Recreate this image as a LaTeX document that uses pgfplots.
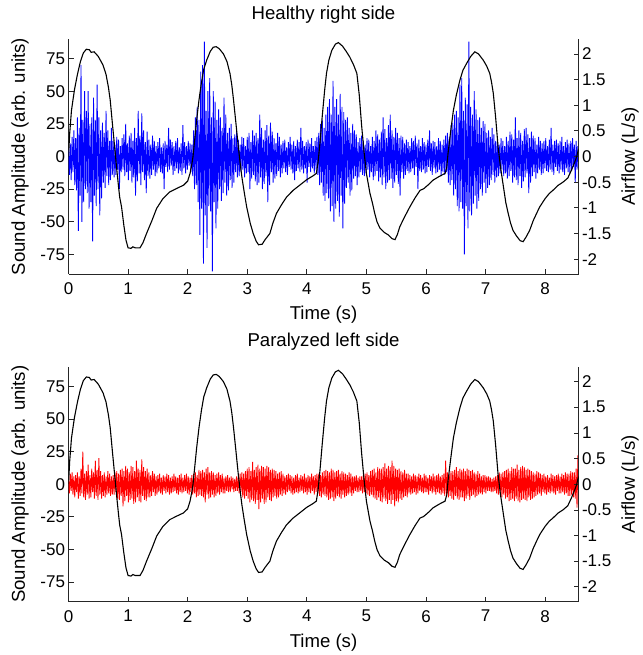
\documentclass[border=0pt]{standalone}
\usepackage{fontspec}
\setmainfont{Liberation Sans}
\usepackage{pgfplots}
\usepackage{pgfplotstable}
\pgfplotsset{compat=1.18}

\pgfplotstableread{
t f
0 0
0.02 0.45
0.05 0.9
0.1 1.3
0.15 1.6
0.2 1.85
0.25 2.02
0.3 2.09
0.35 2.08
0.38 2.03
0.43 2.04
0.5 1.95
0.58 1.78
0.63 1.6
0.67 1.35
0.70 1.1
0.74 0.6
0.78 0.12
0.81 -0.25
0.84 -0.59
0.86 -0.8
0.89 -0.98
0.93 -1.35
0.965 -1.63
1.0 -1.78
1.05 -1.79
1.08 -1.76
1.12 -1.78
1.2 -1.78
1.25 -1.68
1.31 -1.5
1.4 -1.25
1.48 -1.01
1.58 -0.83
1.7 -0.69
1.82 -0.62
1.93 -0.56
2.0 -0.48
2.04 -0.33
2.07 -0.15
2.09 0.0
2.12 0.35
2.15 0.7
2.19 1.1
2.23 1.43
2.27 1.7
2.32 1.88
2.38 2.05
2.43 2.13
2.48 2.14
2.53 2.1
2.6 2.0
2.66 1.85
2.71 1.62
2.74 1.4
2.77 1.1
2.81 0.65
2.85 0.19
2.88 -0.12
2.91 -0.4
2.95 -0.7
2.99 -0.98
3.05 -1.3
3.1 -1.5
3.15 -1.65
3.19 -1.72
3.25 -1.71
3.3 -1.62
3.38 -1.5
3.43 -1.3
3.49 -1.11
3.57 -0.95
3.66 -0.79
3.77 -0.66
3.88 -0.56
4.0 -0.45
4.1 -0.38
4.16 -0.33
4.19 -0.1
4.22 0.26
4.26 0.8
4.30 1.3
4.33 1.62
4.37 1.88
4.42 2.07
4.48 2.19
4.53 2.22
4.6 2.15
4.66 2.05
4.72 1.94
4.78 1.8
4.84 1.62
4.88 1.2
4.92 0.6
4.96 0.1
5.0 -0.33
5.06 -0.72
5.1 -0.9
5.14 -1.11
5.18 -1.28
5.23 -1.40
5.3 -1.48
5.37 -1.53
5.43 -1.6
5.48 -1.62
5.52 -1.52
5.56 -1.37
5.64 -1.18
5.73 -0.98
5.82 -0.8
5.9 -0.66
5.96 -0.63
6.04 -0.55
6.12 -0.46
6.22 -0.39
6.32 -0.33
6.35 -0.2
6.37 0.06
6.41 0.45
6.46 0.9
6.51 1.2
6.57 1.49
6.62 1.68
6.68 1.81
6.75 1.95
6.82 2.04
6.88 2.0
6.96 1.88
7.02 1.76
7.07 1.62
7.1 1.45
7.13 1.23
7.17 0.75
7.21 0.19
7.25 -0.2
7.30 -0.59
7.34 -0.9
7.38 -1.11
7.42 -1.3
7.46 -1.44
7.52 -1.55
7.58 -1.64
7.63 -1.66
7.68 -1.57
7.74 -1.44
7.8 -1.25
7.86 -1.1
7.91 -0.98
8.0 -0.82
8.07 -0.72
8.13 -0.66
8.22 -0.56
8.3 -0.50
8.38 -0.42
8.44 -0.27
8.5 -0.1
8.53 0.0
8.56 0.15
}\airflow

\pgfplotsset{
  common/.style={
    width=510pt, height=235pt, scale only axis,
    xmin=0, xmax=8.56,
    tick align=inside, major tick length=5pt,
    axis line style={-, black!85, line width=0.7pt},
    tick style={black!85, line width=0.7pt},
    /pgf/number format/assume math mode=true,
    tick label style={font=\fontsize{17}{20}\selectfont},
    label style={font=\fontsize{18.6}{22}\selectfont},
    title style={font=\fontsize{18.6}{22}\selectfont, at={(axis description cs:0.5,1.08)}, anchor=center},
  },
  leftax/.style={
    common,
    axis x line*=bottom, axis y line*=left,
    ymin=-90, ymax=90,
    ytick={-75,-50,-25,0,25,50,75},
    xtick={0,1,2,3,4,5,6,7,8},
    xticklabel style={yshift=-5pt},
    xlabel={Time (s)},
    ylabel={Sound Amplitude (arb. units)},
    xlabel style={at={(axis description cs:0.5,-0.174)}, anchor=center},
    ylabel style={at={(axis description cs:-0.095,0.5)}, anchor=center},
  },
  rightax/.style={
    common,
    axis x line=none, axis y line*=right,
    ymin=-2.29, ymax=2.29,
    ytick={-2,-1.5,-1,-0.5,0,0.5,1,1.5,2},
    ylabel={Airflow (L/s)},
    ylabel style={at={(axis description cs:1.101,0.5)}, anchor=center},
  },
}

\begin{document}
\begin{tikzpicture}
\path (-68.5pt,-381pt) rectangle (569.5pt,274pt);

% ---------- Top: healthy right side ----------
\begin{axis}[leftax, at={(0,0)}, title={Healthy right side}]
\addplot[color={rgb,255:red,0;green,0;blue,255}, line width=0.85pt] coordinates {
(0.000,5) (0.015,-14) (0.030,10) (0.045,-18) (0.060,15) (0.075,-12) (0.090,20) (0.105,-22) (0.120,14) (0.135,-26)
(0.150,30) (0.165,-57) (0.180,22) (0.195,-30) (0.210,70) (0.225,-50) (0.240,28) (0.255,-35) (0.270,50) (0.285,-25)
(0.300,35) (0.315,-28) (0.330,50) (0.345,-40) (0.360,25) (0.375,-35) (0.390,30) (0.405,-65) (0.420,45) (0.435,-30)
(0.450,28) (0.465,-38) (0.480,55) (0.495,-25) (0.510,30) (0.525,-45) (0.540,20) (0.555,-32) (0.570,26) (0.585,-20)
(0.600,18) (0.615,-24) (0.630,35) (0.645,-15) (0.660,20) (0.675,-22) (0.690,12) (0.705,-18) (0.720,22) (0.735,-14)
(0.750,12) (0.765,-16) (0.780,9) (0.795,-14) (0.810,15) (0.825,-10) (0.840,13) (0.855,-25) (0.870,8) (0.885,-12)
(0.900,14) (0.915,-10) (0.930,17) (0.945,-15) (0.960,25) (0.975,-12) (0.990,10) (1.005,-18) (1.020,16) (1.035,-11)
(1.050,18) (1.065,-20) (1.080,12) (1.095,-16) (1.110,22) (1.125,-30) (1.140,14) (1.155,-19) (1.170,35) (1.185,-13)
(1.200,16) (1.215,-22) (1.230,33) (1.245,-12) (1.260,20) (1.275,-18) (1.290,11) (1.305,-28) (1.320,19) (1.335,-15)
(1.350,13) (1.365,-17) (1.380,9) (1.395,-14) (1.410,16) (1.425,-10) (1.440,12) (1.455,-15) (1.470,8) (1.485,-13)
(1.500,11) (1.515,-9) (1.530,14) (1.545,-12) (1.560,7) (1.575,-13) (1.590,10) (1.605,-25) (1.620,12) (1.635,-8)
(1.650,9) (1.665,-12) (1.680,22) (1.695,-10) (1.710,13) (1.725,-7) (1.740,11) (1.755,-14) (1.770,8) (1.785,-11)
(1.800,12) (1.815,-9) (1.830,14) (1.845,-13) (1.860,7) (1.875,-11) (1.890,10) (1.905,-14) (1.920,24) (1.935,-9)
(1.950,11) (1.965,-13) (1.980,8) (1.995,-10) (2.010,12) (2.025,-7) (2.040,10) (2.055,-12) (2.070,9) (2.085,-15)
(2.100,20) (2.115,-25) (2.130,30) (2.145,-22) (2.160,38) (2.175,-35) (2.190,28) (2.205,-60) (2.220,65) (2.235,-40)
(2.250,70) (2.265,-82) (2.280,88) (2.295,-45) (2.310,35) (2.325,-70) (2.340,50) (2.355,-38) (2.370,60) (2.385,-42)
(2.400,30) (2.415,-88) (2.430,50) (2.445,-35) (2.460,42) (2.475,-55) (2.490,28) (2.505,-40) (2.520,36) (2.535,-25)
(2.550,30) (2.565,-34) (2.580,22) (2.595,-28) (2.610,45) (2.625,-20) (2.640,32) (2.655,-30) (2.670,18) (2.685,-26)
(2.700,22) (2.715,-18) (2.730,25) (2.745,-24) (2.760,14) (2.775,-20) (2.790,17) (2.805,-12) (2.820,19) (2.835,-16)
(2.850,13) (2.865,-15) (2.880,9) (2.895,-12) (2.910,15) (2.925,-10) (2.940,14) (2.955,-16) (2.970,8) (2.985,-13)
(3.000,15) (3.015,-12) (3.030,18) (3.045,-25) (3.060,11) (3.075,-17) (3.090,20) (3.105,-14) (3.120,16) (3.135,-19)
(3.150,18) (3.165,-22) (3.180,14) (3.195,-20) (3.210,32) (3.225,-16) (3.240,22) (3.255,-25) (3.270,13) (3.285,-21)
(3.300,20) (3.315,-15) (3.330,24) (3.345,-35) (3.360,16) (3.375,-22) (3.390,26) (3.405,-12) (3.420,19) (3.435,-20)
(3.450,14) (3.465,-17) (3.480,10) (3.495,-15) (3.510,18) (3.525,-11) (3.540,15) (3.555,-16) (3.570,9) (3.585,-13)
(3.600,12) (3.615,-9) (3.630,13) (3.645,-12) (3.660,7) (3.675,-14) (3.690,11) (3.705,-8) (3.720,15) (3.735,-10)
(3.750,9) (3.765,-13) (3.780,12) (3.795,-18) (3.810,8) (3.825,-11) (3.840,13) (3.855,-9) (3.870,11) (3.885,-12)
(3.900,22) (3.915,-10) (3.930,12) (3.945,-13) (3.960,8) (3.975,-9) (3.990,11) (4.005,-20) (4.020,13) (4.035,-8)
(4.050,10) (4.065,-12) (4.080,14) (4.095,-9) (4.110,8) (4.125,-13) (4.140,12) (4.155,-10) (4.170,15) (4.185,-14)
(4.200,18) (4.215,-22) (4.230,25) (4.245,-20) (4.260,28) (4.275,-30) (4.290,22) (4.305,-34) (4.320,32) (4.335,-28)
(4.350,38) (4.365,-32) (4.380,44) (4.395,-42) (4.410,32) (4.425,-38) (4.440,58) (4.455,-50) (4.470,38) (4.485,-40)
(4.500,44) (4.515,-34) (4.530,32) (4.545,-46) (4.560,48) (4.575,-30) (4.590,38) (4.605,-55) (4.620,34) (4.635,-36)
(4.650,28) (4.665,-24) (4.680,30) (4.695,-20) (4.710,22) (4.725,-30) (4.740,18) (4.755,-26) (4.770,25) (4.785,-17)
(4.800,20) (4.815,-15) (4.830,17) (4.845,-22) (4.860,11) (4.875,-16) (4.890,14) (4.905,-12) (4.920,16) (4.935,-14)
(4.950,12) (4.965,-15) (4.980,9) (4.995,-13) (5.010,14) (5.025,-10) (5.040,13) (5.055,-16) (5.070,8) (5.085,-12)
(5.100,15) (5.115,-18) (5.130,12) (5.145,-15) (5.160,20) (5.175,-11) (5.190,17) (5.205,-19) (5.220,13) (5.235,-16)
(5.250,19) (5.265,-22) (5.280,30) (5.295,-16) (5.310,21) (5.325,-25) (5.340,14) (5.355,-20) (5.370,24) (5.385,-18)
(5.400,32) (5.415,-17) (5.430,20) (5.445,-24) (5.460,15) (5.475,-20) (5.490,22) (5.505,-14) (5.520,18) (5.535,-21)
(5.550,14) (5.565,-30) (5.580,16) (5.595,-12) (5.610,15) (5.625,-17) (5.640,10) (5.655,-14) (5.670,13) (5.685,-11)
(5.700,11) (5.715,-13) (5.730,8) (5.745,-12) (5.760,14) (5.775,-9) (5.790,12) (5.805,-14) (5.820,16) (5.835,-8)
(5.850,10) (5.865,-25) (5.880,13) (5.895,-11) (5.910,8) (5.925,-12) (5.940,14) (5.955,-10) (5.970,11) (5.985,-13)
(6.000,9) (6.015,-12) (6.030,13) (6.045,-8) (6.060,20) (6.075,-11) (6.090,10) (6.105,-14) (6.120,12) (6.135,-9)
(6.150,11) (6.165,-13) (6.180,8) (6.195,-12) (6.210,14) (6.225,-10) (6.240,12) (6.255,-15) (6.270,9) (6.285,-12)
(6.300,13) (6.315,-14) (6.330,16) (6.345,-12) (6.360,18) (6.375,-20) (6.390,15) (6.405,-22) (6.420,24) (6.435,-18)
(6.450,26) (6.465,-30) (6.480,32) (6.495,-25) (6.510,35) (6.525,-38) (6.540,30) (6.555,-42) (6.570,55) (6.585,-35)
(6.600,60) (6.615,-40) (6.630,35) (6.645,-75) (6.660,45) (6.675,-38) (6.690,40) (6.705,-55) (6.720,88) (6.735,-42)
(6.750,38) (6.765,-45) (6.780,32) (6.795,-36) (6.810,50) (6.825,-30) (6.840,36) (6.855,-40) (6.870,28) (6.885,-34)
(6.900,30) (6.915,-25) (6.930,22) (6.945,-30) (6.960,27) (6.975,-20) (6.990,25) (7.005,-28) (7.020,18) (7.035,-24)
(7.050,20) (7.065,-22) (7.080,15) (7.095,-18) (7.110,22) (7.125,-14) (7.140,17) (7.155,-20) (7.170,12) (7.185,-16)
(7.200,13) (7.215,-15) (7.230,9) (7.245,-13) (7.260,14) (7.275,-10) (7.290,12) (7.305,-15) (7.320,8) (7.335,-13)
(7.350,15) (7.365,-17) (7.380,12) (7.395,-15) (7.410,19) (7.425,-11) (7.440,17) (7.455,-20) (7.470,13) (7.485,-16)
(7.500,30) (7.515,-18) (7.530,14) (7.545,-22) (7.560,20) (7.575,-15) (7.590,18) (7.605,-24) (7.620,12) (7.635,-19)
(7.650,21) (7.665,-16) (7.680,22) (7.695,-13) (7.710,17) (7.725,-28) (7.740,14) (7.755,-20) (7.770,19) (7.785,-15)
(7.800,16) (7.815,-12) (7.830,14) (7.845,-17) (7.860,9) (7.875,-13) (7.890,15) (7.905,-10) (7.920,12) (7.935,-14)
(7.950,10) (7.965,-13) (7.980,12) (7.995,-9) (8.010,14) (8.025,-11) (8.040,8) (8.055,-12) (8.070,13) (8.085,-10)
(8.100,22) (8.115,-12) (8.130,9) (8.145,-14) (8.160,12) (8.175,-8) (8.190,13) (8.205,-11) (8.220,10) (8.235,-13)
(8.250,12) (8.265,-10) (8.280,15) (8.295,-12) (8.310,8) (8.325,-14) (8.340,11) (8.355,-9) (8.370,13) (8.385,-12)
(8.400,10) (8.415,-13) (8.430,12) (8.445,-11) (8.460,14) (8.475,-8) (8.490,9) (8.505,-20) (8.520,12) (8.535,-10)
(8.550,8)
};
\end{axis}
\begin{axis}[rightax, at={(0,0)}]
\addplot[black, line width=1.1pt] table[x=t, y=f] {\airflow};
\end{axis}

% ---------- Bottom: paralyzed left side ----------
\begin{axis}[leftax, at={(0,-327.7pt)}, title={Paralyzed left side}]
\addplot[color={rgb,255:red,255;green,0;blue,0}, line width=0.85pt] coordinates {
(0.000,3) (0.015,-7) (0.030,8) (0.045,-5) (0.060,9) (0.075,-8) (0.090,6) (0.105,-10) (0.120,7) (0.135,-6)
(0.150,9) (0.165,-11) (0.180,6) (0.195,-9) (0.210,12) (0.225,-7) (0.240,25) (0.255,-10) (0.270,8) (0.285,-12)
(0.300,10) (0.315,-8) (0.330,15) (0.345,-11) (0.360,7) (0.375,-10) (0.390,12) (0.405,-6) (0.420,9) (0.435,-11)
(0.450,18) (0.465,-9) (0.480,11) (0.495,-12) (0.510,20) (0.525,-8) (0.540,10) (0.555,-11) (0.570,7) (0.585,-9)
(0.600,9) (0.615,-10) (0.630,6) (0.645,-8) (0.660,10) (0.675,-7) (0.690,8) (0.705,-9) (0.720,6) (0.735,-8)
(0.750,7) (0.765,-8) (0.780,9) (0.795,-6) (0.810,10) (0.825,-11) (0.840,8) (0.855,-12) (0.870,11) (0.885,-9)
(0.900,12) (0.915,-17) (0.930,10) (0.945,-13) (0.960,14) (0.975,-9) (0.990,12) (1.005,-14) (1.020,9) (1.035,-12)
(1.050,14) (1.065,-11) (1.080,13) (1.095,-15) (1.110,10) (1.125,-14) (1.140,18) (1.155,-10) (1.170,12) (1.185,-13)
(1.200,11) (1.215,-14) (1.230,19) (1.245,-9) (1.260,13) (1.275,-12) (1.290,10) (1.305,-13) (1.320,12) (1.335,-10)
(1.350,9) (1.365,-10) (1.380,7) (1.395,-9) (1.410,10) (1.425,-6) (1.440,8) (1.455,-9) (1.470,6) (1.485,-8)
(1.500,7) (1.515,-6) (1.530,8) (1.545,-7) (1.560,5) (1.575,-8) (1.590,7) (1.605,-5) (1.620,6) (1.635,-7)
(1.650,8) (1.665,-6) (1.680,7) (1.695,-8) (1.710,5) (1.725,-7) (1.740,6) (1.755,-6) (1.770,8) (1.785,-5)
(1.800,6) (1.815,-7) (1.830,5) (1.845,-8) (1.860,7) (1.875,-6) (1.890,8) (1.905,-7) (1.920,5) (1.935,-6)
(1.950,7) (1.965,-5) (1.980,8) (1.995,-7) (2.010,6) (2.025,-8) (2.040,5) (2.055,-6) (2.070,7) (2.085,-8)
(2.100,8) (2.115,-7) (2.130,9) (2.145,-10) (2.160,7) (2.175,-9) (2.190,11) (2.205,-8) (2.220,10) (2.235,-9)
(2.250,11) (2.265,-10) (2.280,9) (2.295,-14) (2.310,12) (2.325,-8) (2.340,13) (2.355,-11) (2.370,9) (2.385,-10)
(2.400,10) (2.415,-8) (2.430,9) (2.445,-10) (2.460,7) (2.475,-9) (2.490,8) (2.505,-7) (2.520,9) (2.535,-8)
(2.550,7) (2.565,-6) (2.580,8) (2.595,-7) (2.610,5) (2.625,-7) (2.640,6) (2.655,-5) (2.670,7) (2.685,-6)
(2.700,5) (2.715,-6) (2.730,6) (2.745,-4) (2.760,5) (2.775,-6) (2.790,4) (2.805,-5) (2.820,6) (2.835,-5)
(2.850,6) (2.865,-7) (2.880,8) (2.895,-6) (2.910,9) (2.925,-10) (2.940,8) (2.955,-11) (2.970,10) (2.985,-9)
(3.000,12) (3.015,-11) (3.030,13) (3.045,-14) (3.060,10) (3.075,-12) (3.090,17) (3.105,-13) (3.120,11) (3.135,-15)
(3.150,13) (3.165,-12) (3.180,15) (3.195,-19) (3.210,12) (3.225,-14) (3.240,14) (3.255,-11) (3.270,13) (3.285,-15)
(3.300,12) (3.315,-14) (3.330,14) (3.345,-10) (3.360,13) (3.375,-12) (3.390,11) (3.405,-13) (3.420,12) (3.435,-10)
(3.450,11) (3.465,-9) (3.480,10) (3.495,-11) (3.510,8) (3.525,-10) (3.540,9) (3.555,-8) (3.570,10) (3.585,-9)
(3.600,8) (3.615,-7) (3.630,6) (3.645,-8) (3.660,7) (3.675,-6) (3.690,8) (3.705,-5) (3.720,7) (3.735,-7)
(3.750,6) (3.765,-8) (3.780,5) (3.795,-7) (3.810,7) (3.825,-6) (3.840,8) (3.855,-7) (3.870,5) (3.885,-6)
(3.900,7) (3.915,-5) (3.930,6) (3.945,-7) (3.960,8) (3.975,-6) (3.990,5) (4.005,-8) (4.020,7) (4.035,-6)
(4.050,6) (4.065,-7) (4.080,8) (4.095,-5) (4.110,6) (4.125,-8) (4.140,7) (4.155,-6) (4.170,8) (4.185,-7)
(4.200,8) (4.215,-9) (4.230,7) (4.245,-10) (4.260,9) (4.275,-8) (4.290,10) (4.305,-9) (4.320,11) (4.335,-10)
(4.350,10) (4.365,-12) (4.380,9) (4.395,-11) (4.410,12) (4.425,-10) (4.440,11) (4.455,-13) (4.470,9) (4.485,-11)
(4.500,10) (4.515,-9) (4.530,11) (4.545,-10) (4.560,8) (4.575,-11) (4.590,10) (4.605,-8) (4.620,9) (4.635,-10)
(4.650,8) (4.665,-9) (4.680,7) (4.695,-8) (4.710,9) (4.725,-7) (4.740,8) (4.755,-9) (4.770,6) (4.785,-7)
(4.800,6) (4.815,-5) (4.830,7) (4.845,-6) (4.860,5) (4.875,-6) (4.890,6) (4.905,-5) (4.920,6) (4.935,-7)
(4.950,7) (4.965,-6) (4.980,8) (4.995,-7) (5.010,9) (5.025,-8) (5.040,7) (5.055,-9) (5.070,10) (5.085,-8)
(5.100,11) (5.115,-10) (5.130,12) (5.145,-11) (5.160,9) (5.175,-12) (5.190,13) (5.205,-10) (5.220,12) (5.235,-13)
(5.250,12) (5.265,-14) (5.280,13) (5.295,-11) (5.310,16) (5.325,-13) (5.340,12) (5.355,-15) (5.370,14) (5.385,-12)
(5.400,13) (5.415,-15) (5.430,18) (5.445,-12) (5.460,14) (5.475,-17) (5.490,12) (5.505,-13) (5.520,11) (5.535,-14)
(5.550,12) (5.565,-11) (5.580,10) (5.595,-12) (5.610,9) (5.625,-10) (5.640,11) (5.655,-9) (5.670,8) (5.685,-10)
(5.700,8) (5.715,-7) (5.730,7) (5.745,-8) (5.760,6) (5.775,-7) (5.790,8) (5.805,-6) (5.820,7) (5.835,-8)
(5.850,6) (5.865,-7) (5.880,8) (5.895,-5) (5.910,7) (5.925,-6) (5.940,5) (5.955,-7) (5.970,8) (5.985,-6)
(6.000,7) (6.015,-6) (6.030,5) (6.045,-8) (6.060,7) (6.075,-5) (6.090,6) (6.105,-7) (6.120,8) (6.135,-6)
(6.150,6) (6.165,-8) (6.180,7) (6.195,-6) (6.210,8) (6.225,-7) (6.240,6) (6.255,-8) (6.270,7) (6.285,-7)
(6.300,8) (6.315,-9) (6.330,18) (6.345,-8) (6.360,9) (6.375,-10) (6.390,8) (6.405,-9) (6.420,10) (6.435,-11)
(6.450,10) (6.465,-12) (6.480,11) (6.495,-9) (6.510,13) (6.525,-11) (6.540,10) (6.555,-12) (6.570,12) (6.585,-10)
(6.600,11) (6.615,-10) (6.630,12) (6.645,-13) (6.660,10) (6.675,-11) (6.690,12) (6.705,-9) (6.720,11) (6.735,-12)
(6.750,10) (6.765,-9) (6.780,11) (6.795,-8) (6.810,9) (6.825,-10) (6.840,8) (6.855,-9) (6.870,10) (6.885,-8)
(6.900,8) (6.915,-7) (6.930,6) (6.945,-8) (6.960,7) (6.975,-6) (6.990,7) (7.005,-7) (7.020,6) (7.035,-5)
(7.050,6) (7.065,-5) (7.080,5) (7.095,-6) (7.110,4) (7.125,-6) (7.140,5) (7.155,-5) (7.170,6) (7.185,-7)
(7.200,7) (7.215,-8) (7.230,9) (7.245,-7) (7.260,8) (7.275,-10) (7.290,9) (7.305,-8) (7.320,10) (7.335,-11)
(7.350,11) (7.365,-10) (7.380,12) (7.395,-13) (7.410,10) (7.425,-12) (7.440,13) (7.455,-11) (7.470,12) (7.485,-13)
(7.500,12) (7.515,-11) (7.530,15) (7.545,-13) (7.560,11) (7.575,-14) (7.590,13) (7.605,-12) (7.620,14) (7.635,-11)
(7.650,13) (7.665,-12) (7.680,11) (7.695,-13) (7.710,12) (7.725,-10) (7.740,11) (7.755,-12) (7.770,10) (7.785,-11)
(7.800,9) (7.815,-10) (7.830,8) (7.845,-9) (7.860,10) (7.875,-8) (7.890,9) (7.905,-7) (7.920,8) (7.935,-9)
(7.950,7) (7.965,-6) (7.980,8) (7.995,-7) (8.010,6) (8.025,-8) (8.040,7) (8.055,-6) (8.070,5) (8.085,-7)
(8.100,8) (8.115,-6) (8.130,7) (8.145,-7) (8.160,6) (8.175,-8) (8.190,7) (8.205,-5) (8.220,8) (8.235,-7)
(8.250,6) (8.265,-7) (8.280,8) (8.295,-6) (8.310,7) (8.325,-8) (8.340,9) (8.355,-7) (8.370,8) (8.385,-9)
(8.400,8) (8.415,-9) (8.430,10) (8.445,-8) (8.460,9) (8.475,-10) (8.490,9) (8.505,-11) (8.520,12) (8.535,-18)
(8.550,22)
};
\end{axis}
\begin{axis}[rightax, at={(0,-327.7pt)}]
\addplot[black, line width=1.1pt] table[x=t, y=f] {\airflow};
\end{axis}
\end{tikzpicture}
\end{document}
